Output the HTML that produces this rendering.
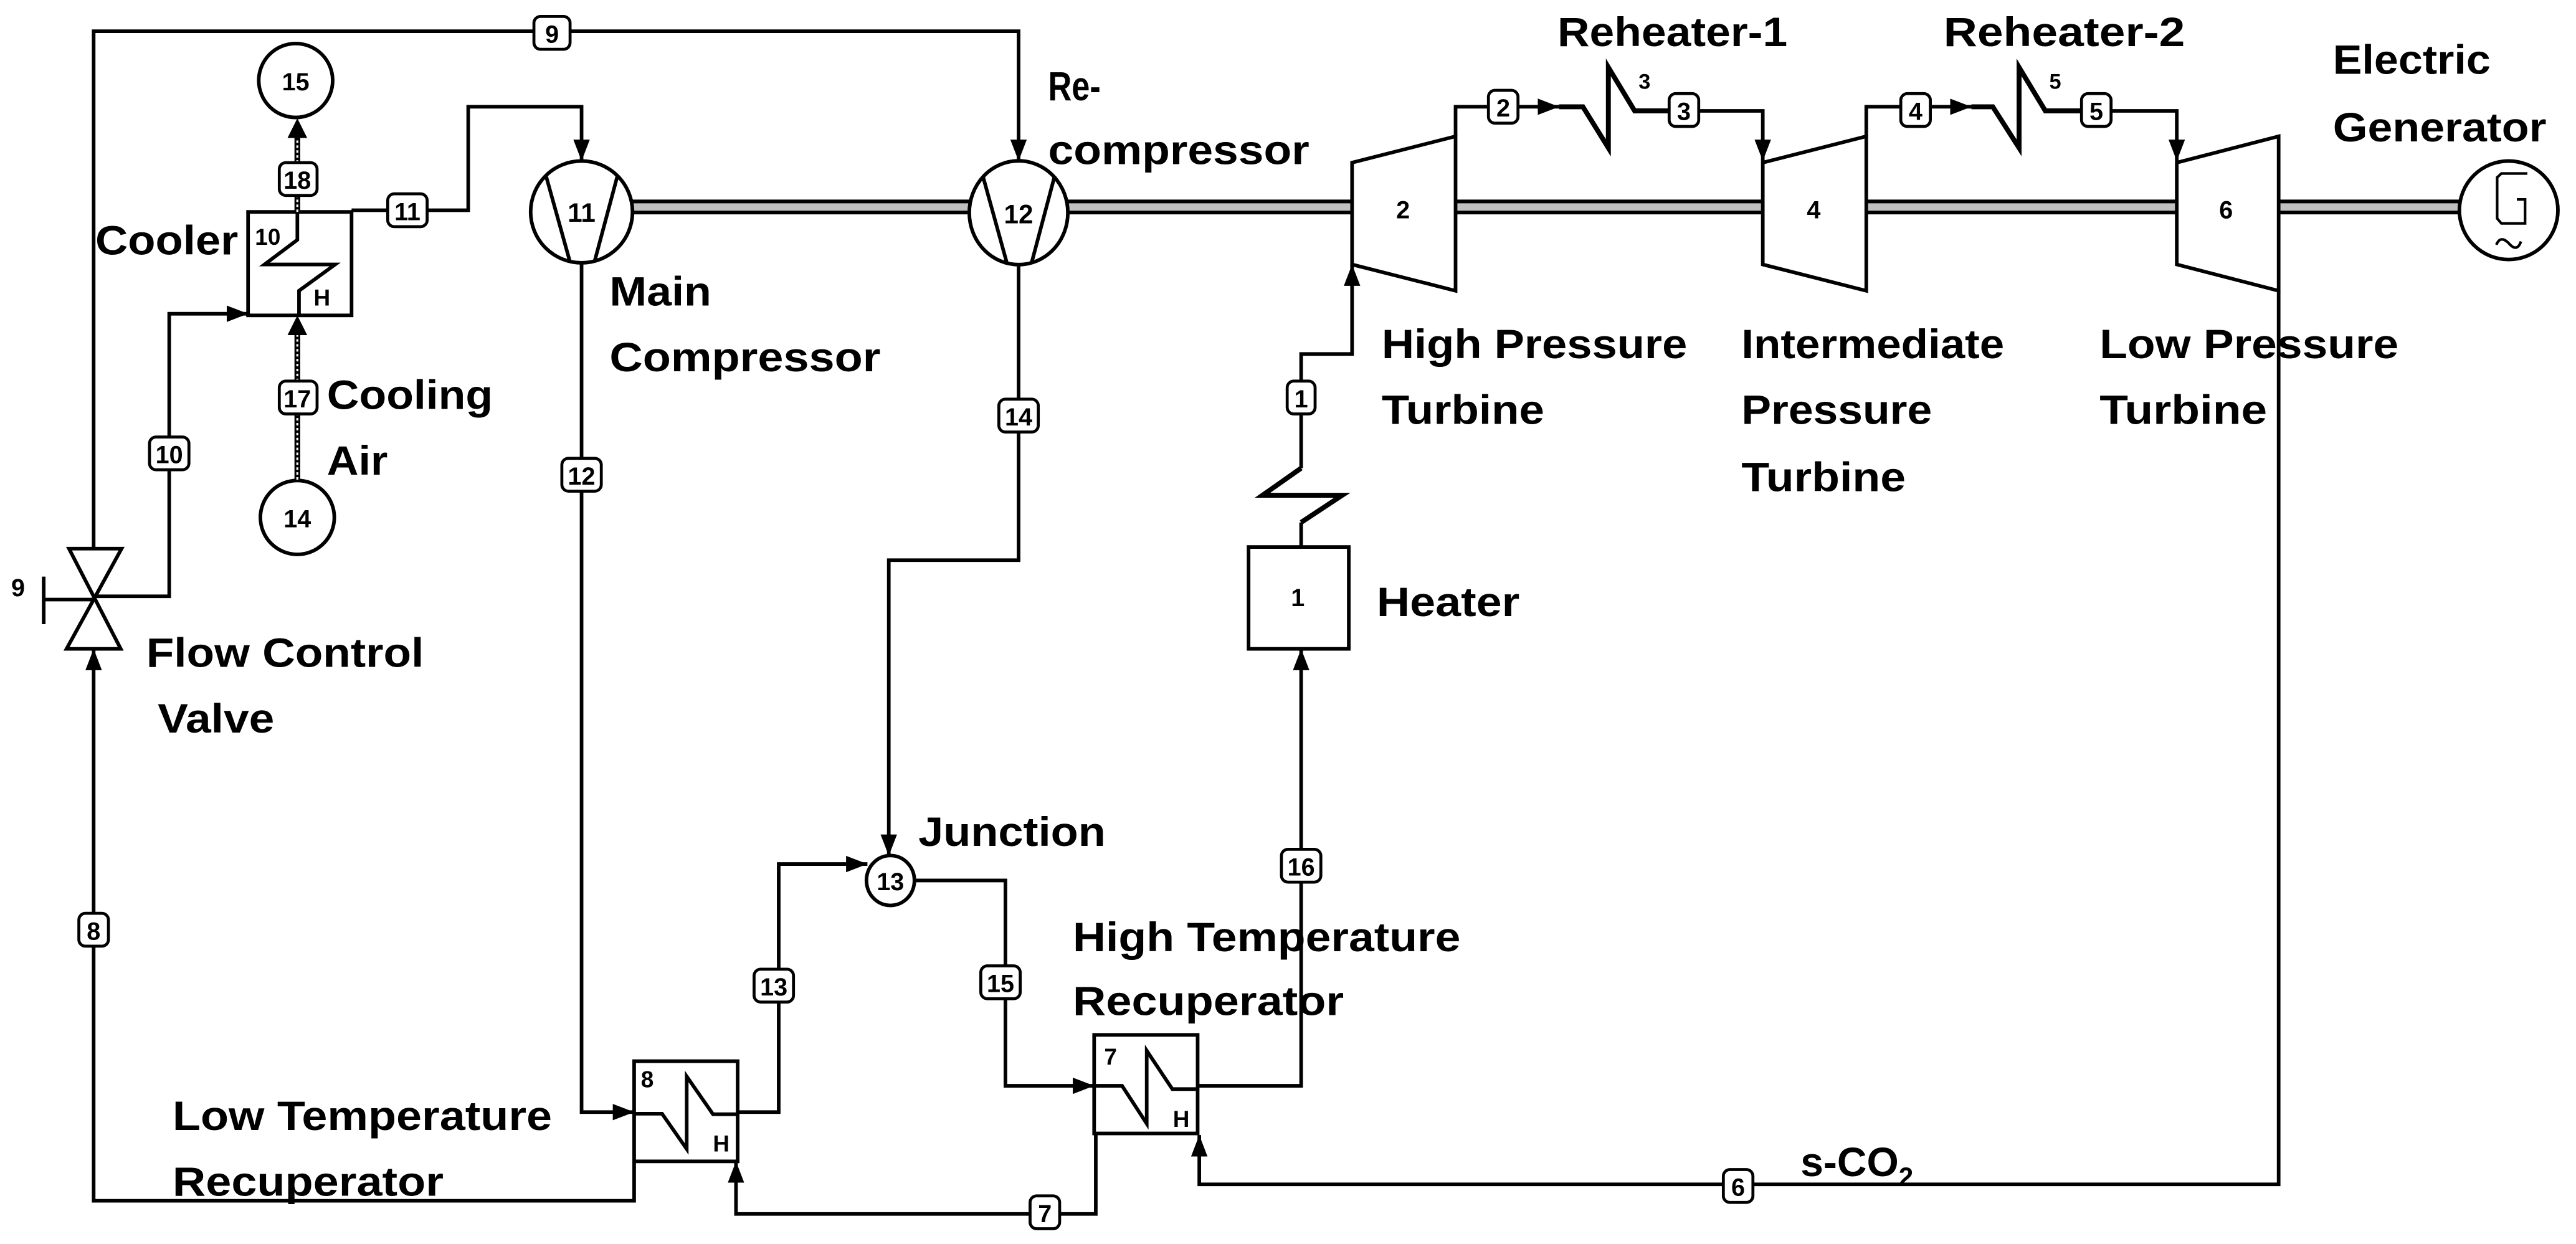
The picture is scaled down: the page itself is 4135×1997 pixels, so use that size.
<!DOCTYPE html>
<html><head><meta charset="utf-8"><style>html,body{margin:0;padding:0;background:#fff}svg{display:block}</style></head>
<body>
<svg xmlns="http://www.w3.org/2000/svg" width="4135" height="1997" viewBox="0 0 1568 757.3" preserveAspectRatio="none" font-family="Liberation Sans, Arial, sans-serif" font-weight="bold">
<defs>
<marker id="a" markerUnits="userSpaceOnUse" markerWidth="14" markerHeight="12" refX="13" refY="5" orient="auto"><path d="M0,0 L13,5 L0,10 z" fill="#000"/></marker>
</defs>
<rect width="1568" height="757.3" fill="#fff"/>
<g>
<path d="M385,126 H590 M650,126 H823 M886,126 H1073 M1136,126 H1325 M1387,126 H1497" stroke="#000" stroke-width="9" fill="none"/>
<path d="M385,126 H590 M650,126 H823 M886,126 H1073 M1136,126 H1325 M1387,126 H1497" stroke="#c0c0c0" stroke-width="4.5" fill="none"/>
</g>
<g stroke="#000" stroke-width="2.2" fill="none">
<path d="M57,334 V19 H620 V98" marker-end="url(#a)"/>
<path d="M57,363 H103 V191 H151" marker-end="url(#a)"/>
<path d="M214,128 H285 V65 H354 V98" marker-end="url(#a)"/>
<path d="M354,160 V677 H386" marker-end="url(#a)"/>
<path d="M449,677 H474 V526 H528" marker-end="url(#a)"/>
<path d="M620,161 V341 H541 V521" marker-end="url(#a)"/>
<path d="M557,536 H612 V661 H666" marker-end="url(#a)"/>
<path d="M729,661 H792 V395" marker-end="url(#a)"/>
<path d="M667,690 V739 H448 V707" marker-end="url(#a)"/>
<path d="M386,707 V731 H57 V395" marker-end="url(#a)"/>
<path d="M1387,177 V721 H730 V691" marker-end="url(#a)"/>
<path d="M792,333 V318 M792,285 V215.5 H823 V161" marker-end="url(#a)"/>
<path d="M792,318 L817,301.5 H768.5 L792,285" stroke-width="3"/>
<path d="M886,83 V65 H949" marker-end="url(#a)"/>
<path d="M949,65 H963.5 L979,90 V41 L995,67.5 H1016" stroke-width="3"/>
<path d="M1034,67.5 H1073 V98" marker-end="url(#a)"/>
<path d="M1136,83 V65 H1200" marker-end="url(#a)"/>
<path d="M1200,65 H1213 L1229,90 V41 L1245,67.5 H1267" stroke-width="3"/>
<path d="M1285,67.5 H1325 V98" marker-end="url(#a)"/>
<path d="M42,334 H74 L40.5,395 H73.5 Z" fill="#fff"/>
<path d="M26.6,351 V380 M26.6,365 H57"/>
<rect x="151" y="129" width="63" height="63" fill="#fff"/>
<path d="M181,129 V146 L161,161 H204 L182,177 V192"/>
<rect x="386" y="646" width="63" height="61" fill="#fff"/>
<path d="M386,678 H403 L418,699.5 V655.3 L434,678.3 H449"/>
<rect x="666" y="630" width="63" height="60" fill="#fff"/>
<path d="M666,661 H683 L698,684 V639.6 L713.6,663 H729"/>
<rect x="760" y="333" width="61" height="62" fill="#fff"/>
<circle cx="354" cy="129" r="31" fill="#fff"/>
<path d="M332.5,107.6 L347,159.6 M376,106.4 L361.8,159.6"/>
<ellipse cx="620" cy="129.5" rx="30" ry="31.6" fill="#fff"/>
<path d="M598.5,108 L613,160.5 M642,107 L627.8,160.5"/>
<path d="M823,99 L886,83 V177 L823,161 Z" fill="#fff"/>
<path d="M1073,99 L1136,83 V177 L1073,161 Z" fill="#fff"/>
<path d="M1325,99 L1387,83 V177 L1325,161 Z" fill="#fff"/>
<circle cx="180" cy="49" r="22.5" fill="#fff"/>
<circle cx="181" cy="315" r="22.5" fill="#fff"/>
<ellipse cx="542" cy="536" rx="14.6" ry="15.2" fill="#fff"/>
<circle cx="1527" cy="128" r="30" fill="#fff"/>
<path d="M1532,121.4 H1537 V136 H1522.6 L1520,133 V108 L1522.6,105.6 H1538.4" stroke-width="1.6"/>
<path d="M1519.5,149 Q1522,143 1527,148 Q1532,154 1534.5,147" stroke-width="1.6"/>
</g>
<g>
<path d="M181,129 V82 M181,292 V202" stroke="#000" stroke-width="3.5"/>
<path d="M181,129 V82 M181,292 V202" stroke="#fff" stroke-width="1.2" stroke-dasharray="1.5,1.5"/>
<polygon points="181,72 175,84 187,84"/>
<polygon points="181,192 175,204 187,204"/>
</g>
<g stroke="#000" stroke-width="1.8" fill="#fff">
<rect x="325" y="10" width="22" height="20" rx="4"/>
<rect x="170" y="99" width="23" height="20" rx="4"/>
<rect x="236" y="118" width="24" height="20" rx="4"/>
<rect x="170" y="232" width="23" height="20" rx="4"/>
<rect x="91" y="266" width="24" height="20" rx="4"/>
<rect x="342" y="279" width="24" height="20" rx="4"/>
<rect x="608" y="243" width="24" height="20" rx="4"/>
<rect x="783.5" y="232" width="17" height="20" rx="4"/>
<rect x="906" y="55" width="18" height="20" rx="4"/>
<rect x="1016" y="57" width="18" height="20" rx="4"/>
<rect x="1157" y="57" width="18" height="20" rx="4"/>
<rect x="1267" y="57" width="18" height="20" rx="4"/>
<rect x="459" y="590" width="24" height="20" rx="4"/>
<rect x="597" y="588" width="24" height="20" rx="4"/>
<rect x="780" y="517" width="24" height="20" rx="4"/>
<rect x="627" y="728" width="18" height="20" rx="4"/>
<rect x="1049" y="712" width="18" height="20" rx="4"/>
<rect x="48" y="556" width="18" height="20" rx="4"/>
</g>
<g font-size="15" text-anchor="middle" fill="#000">
<text x="336" y="26">9</text>
<text x="181" y="115">18</text>
<text x="248" y="134">11</text>
<text x="181" y="248">17</text>
<text x="103" y="282">10</text>
<text x="354" y="295">12</text>
<text x="620" y="259">14</text>
<text x="792" y="248">1</text>
<text x="915" y="71">2</text>
<text x="1025" y="73">3</text>
<text x="1166" y="73">4</text>
<text x="1276" y="73">5</text>
<text x="471" y="606">13</text>
<text x="609" y="604">15</text>
<text x="792" y="533">16</text>
<text x="636" y="744">7</text>
<text x="1058" y="728">6</text>
<text x="57" y="572">8</text>
<text x="180" y="55">15</text>
<text x="181" y="321">14</text>
<text x="354" y="135" font-size="16">11</text>
<text x="620" y="136" font-size="16">12</text>
<text x="542" y="542">13</text>
<text x="854" y="133">2</text>
<text x="1104" y="133">4</text>
<text x="1355" y="133">6</text>
<text x="790" y="369">1</text>
<text x="1001" y="54" font-size="13">3</text>
<text x="1251" y="54" font-size="13">5</text>
<text x="11" y="363">9</text>
<text x="163" y="149" font-size="14">10</text>
<text x="196" y="186" font-size="14">H</text>
<text x="394" y="662" font-size="14">8</text>
<text x="439" y="701" font-size="14">H</text>
<text x="676" y="648" font-size="14">7</text>
<text x="719" y="686" font-size="14">H</text>
</g>
<g font-size="25" fill="#000">
<text x="948" y="28" textLength="140" lengthAdjust="spacingAndGlyphs">Reheater-1</text>
<text x="1183" y="28" textLength="147" lengthAdjust="spacingAndGlyphs">Reheater-2</text>
<text x="1420" y="45" textLength="96" lengthAdjust="spacingAndGlyphs">Electric</text>
<text x="1420" y="86" textLength="130" lengthAdjust="spacingAndGlyphs">Generator</text>
<text x="638" y="61" textLength="32" lengthAdjust="spacingAndGlyphs">Re-</text>
<text x="638" y="100" textLength="159" lengthAdjust="spacingAndGlyphs">compressor</text>
<text x="841" y="218" textLength="186" lengthAdjust="spacingAndGlyphs">High Pressure</text>
<text x="841" y="258" textLength="99" lengthAdjust="spacingAndGlyphs">Turbine</text>
<text x="1060" y="218" textLength="160" lengthAdjust="spacingAndGlyphs">Intermediate</text>
<text x="1060" y="258" textLength="116" lengthAdjust="spacingAndGlyphs">Pressure</text>
<text x="1060" y="299" textLength="100" lengthAdjust="spacingAndGlyphs">Turbine</text>
<text x="1278" y="218" textLength="182" lengthAdjust="spacingAndGlyphs">Low Pressure</text>
<text x="1278" y="258" textLength="102" lengthAdjust="spacingAndGlyphs">Turbine</text>
<text x="371" y="186" textLength="62" lengthAdjust="spacingAndGlyphs">Main</text>
<text x="371" y="226" textLength="165" lengthAdjust="spacingAndGlyphs">Compressor</text>
<text x="58" y="155" textLength="87" lengthAdjust="spacingAndGlyphs">Cooler</text>
<text x="199" y="249" textLength="101" lengthAdjust="spacingAndGlyphs">Cooling</text>
<text x="199" y="289" textLength="37" lengthAdjust="spacingAndGlyphs">Air</text>
<text x="838" y="375" textLength="87" lengthAdjust="spacingAndGlyphs">Heater</text>
<text x="89" y="406" textLength="169" lengthAdjust="spacingAndGlyphs">Flow Control</text>
<text x="96" y="446" textLength="71" lengthAdjust="spacingAndGlyphs">Valve</text>
<text x="559" y="515" textLength="114" lengthAdjust="spacingAndGlyphs">Junction</text>
<text x="653" y="579" textLength="236" lengthAdjust="spacingAndGlyphs">High Temperature</text>
<text x="653" y="618" textLength="165" lengthAdjust="spacingAndGlyphs">Recuperator</text>
<text x="105" y="688" textLength="231" lengthAdjust="spacingAndGlyphs">Low Temperature</text>
<text x="105" y="728" textLength="165" lengthAdjust="spacingAndGlyphs">Recuperator</text>
<text x="1096" y="716">s-CO<tspan font-size="16" dy="6">2</tspan></text>
</g>
</svg>
</body></html>
